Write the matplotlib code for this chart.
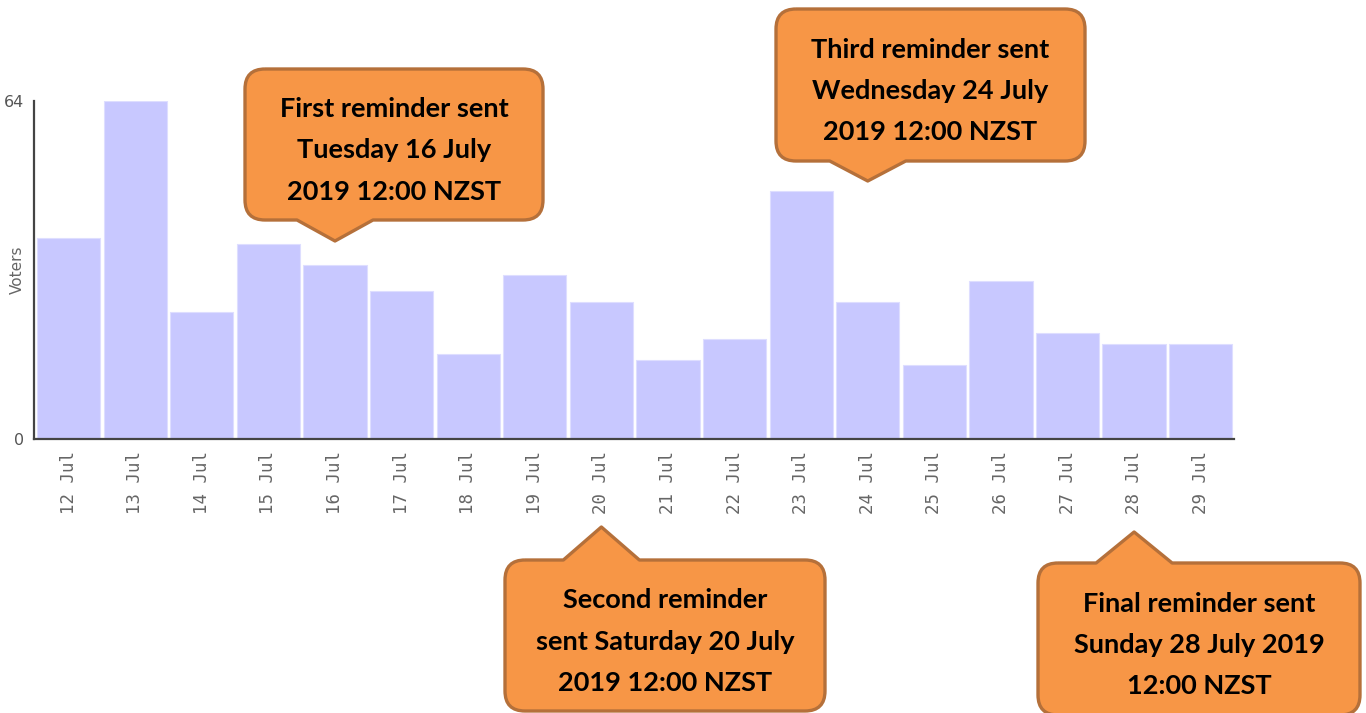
import matplotlib
matplotlib.use("Agg")
import matplotlib.pyplot as plt
from matplotlib.path import Path
from matplotlib.patches import PathPatch

# -----------------------------
# Dados
# -----------------------------
dias = ["12 Jul", "13 Jul", "14 Jul", "15 Jul", "16 Jul", "17 Jul", "18 Jul",
        "19 Jul", "20 Jul", "21 Jul", "22 Jul", "23 Jul", "24 Jul", "25 Jul",
        "26 Jul", "27 Jul", "28 Jul", "29 Jul"]
votantes = [38, 64, 24, 37, 33, 28, 16, 31, 26, 15, 19, 47, 26, 14, 30, 20, 18, 18]

lembretes_dia = ["16 Jul", "24 Jul", "20 Jul", "28 Jul"]
lembretes_texto = [
    "First reminder sent\nTuesday 16 July\n2019 12:00 NZST",
    "Third reminder sent\nWednesday 24 July\n2019 12:00 NZST",
    "Second reminder\nsent Saturday 20 July\n2019 12:00 NZST",
    "Final reminder sent\nSunday 28 July 2019\n12:00 NZST",
]

# -----------------------------
# Figura e barras
# -----------------------------
W, H = 1366, 713
fig = plt.figure(figsize=(W / 100, H / 100), dpi=100)
ax = fig.add_axes([34 / W, 1 - 439 / H, 1200 / W, 338 / H])

x = list(range(len(dias)))
ax.bar(x, votantes, width=0.95, color="#c8c8ff", edgecolor="#dedeff", linewidth=0.8)
ax.set_xlim(-0.52, len(dias) - 0.5)
ax.set_ylim(0, 64)

for s in ["top", "right"]:
    ax.spines[s].set_visible(False)
ax.spines["left"].set_color("#444444")
ax.spines["left"].set_linewidth(1.6)
ax.spines["bottom"].set_color("#444444")
ax.spines["bottom"].set_linewidth(1.6)

ax.set_yticks([0, 64])
ax.set_yticklabels(["0", "64"], color="#555555", fontsize=11.5)
ax.tick_params(axis="y", length=0, pad=7)
ax.set_xticks(x)
ax.set_xticklabels(dias, rotation=90, color="#666666", fontsize=12.5,
                   family="DejaVu Sans Mono")
ax.tick_params(axis="x", length=0, pad=9)
ax.set_ylabel("Voters", color="#666666", fontsize=11, va="center")
ax.yaxis.set_label_coords(-0.0135, 0.5)

# -----------------------------
# Balões de aviso (coordenadas em pixels da figura, y para baixo)
# -----------------------------
over = fig.add_axes([0, 0, 1, 1])
over.set_xlim(0, W)
over.set_ylim(H, 0)
over.axis("off")


def balao(x0, y0, x1, y1, tx, ty, meia_base, r=20):
    cima = ty < y0
    v = [(x0 + r, y0)]
    c = [Path.MOVETO]
    if cima:
        v += [(tx - meia_base, y0), (tx, ty), (tx + meia_base, y0)]
        c += [Path.LINETO] * 3
    v += [(x1 - r, y0), (x1, y0), (x1, y0 + r), (x1, y1 - r), (x1, y1), (x1 - r, y1)]
    c += [Path.LINETO, Path.CURVE3, Path.CURVE3, Path.LINETO, Path.CURVE3, Path.CURVE3]
    if not cima:
        v += [(tx + meia_base, y1), (tx, ty), (tx - meia_base, y1)]
        c += [Path.LINETO] * 3
    v += [(x0 + r, y1), (x0, y1), (x0, y1 - r), (x0, y0 + r), (x0, y0), (x0 + r, y0)]
    c += [Path.LINETO, Path.CURVE3, Path.CURVE3, Path.LINETO, Path.CURVE3, Path.CURVE3]
    over.add_patch(PathPatch(Path(v, c), facecolor="#f79646", edgecolor="#b5703a",
                             linewidth=2.4, joinstyle="round"))


# caixas: (esquerda, topo, direita, base, y da ponta)
caixas = [
    (245, 69, 543, 220, 241),
    (776, 9, 1085, 161, 181),
    (505, 560, 825, 711, 527),
    (1038, 563, 1360, 715, 532),
]

for dia, texto, (x0, y0, x1, y1, ty) in zip(lembretes_dia, lembretes_texto, caixas):
    i = dias.index(dia)
    tx = ax.transData.transform((i, 0))[0]
    balao(x0, y0, x1, y1, tx, ty, 38)
    over.text((x0 + x1) / 2, (y0 + y1) / 2 + 6, texto, ha="center", va="center",
              fontsize=19.5, fontweight="bold", family="Lato", color="black",
              linespacing=1.86)

fig.savefig("out.png", dpi=100)
